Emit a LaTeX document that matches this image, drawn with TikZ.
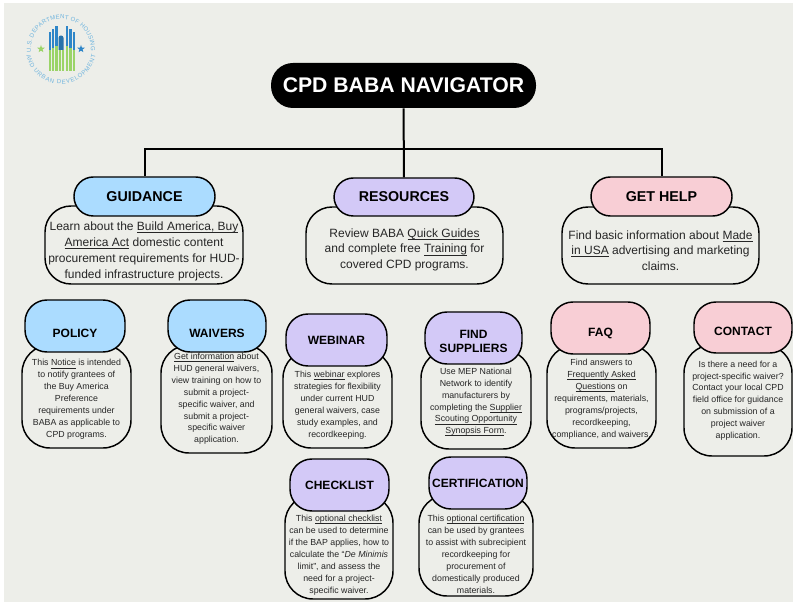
\documentclass[tikz,border=0pt]{standalone}
\usepackage{fontspec}
\setmainfont{Liberation Sans}
\usetikzlibrary{shapes.geometric,decorations.text}

\definecolor{pagebg}{HTML}{EDEEE9}
\definecolor{bluehead}{HTML}{ABDCFF}
\definecolor{purplehead}{HTML}{D3C9F7}
\definecolor{pinkhead}{HTML}{F8CED5}
\definecolor{sealblue}{HTML}{2F86C8}
\definecolor{sealgreen}{HTML}{9BD468}
\definecolor{sealtext}{HTML}{6FB4DE}

\newcommand{\sealfont}{\fontsize{4.5}{5}\selectfont\color{sealtext}}
\newcommand{\up}[1]{\rule{0pt}{#1pt}}
\newcommand{\ul}[1]{\underline{\smash{#1}}}

\tikzset{
    sized/.style 2 args={minimum width=#1*0.75pt, minimum height=#2*0.75pt},
    head/.style={draw=black, line width=1.1pt, rounded corners=14.5pt, inner sep=0pt, align=center, text=black, font=\fontsize{10.7}{12}\selectfont\bfseries},
    subhead/.style={head, rounded corners=16.5pt, font=\fontsize{9}{10.8}\selectfont\bfseries},
    blurb/.style={draw=black, line width=1.1pt, fill=pagebg, rounded corners=19.5pt, inner sep=0pt, align=center, text=black!85, font=\fontsize{9}{11.8}\selectfont},
    subblurb/.style={blurb, rounded corners=21pt, font=\fontsize{6.6}{8.9}\selectfont},
    link/.style={draw=black, line width=1.5pt},
    sealtop/.style={decorate, decoration={text along path, text align={fit to path}, text={|\sealfont|U.S. DEPARTMENT OF HOUSING}}},
    sealbottom/.style={decorate, decoration={text along path, text align={fit to path}, text={|\sealfont|AND URBAN DEVELOPMENT}}}
}

\begin{document}
\begin{tikzpicture}[x=0.75pt, y=-0.75pt]

    \useasboundingbox (0,0) rectangle (793,602);
    \fill[pagebg] (4,3) rectangle (793,602);

    % seal
    \coordinate (seal) at (61,49);
    \path[sealtop] ([shift={(186:22.5pt)}]seal) arc[start angle=186, end angle=-4, radius=22.5pt];
    \path[sealbottom] ([shift={(190:26.3pt)}]seal) arc[start angle=190, end angle=350, radius=26.3pt];
    \foreach \x/\y in {48.5/32,51.9/29,55.3/26,65.9/26,69.2/29,72.5/32} \fill[sealblue] (\x,\y) rectangle (\x+2.3,50);
    \fill[sealblue!85!black] (58.5,50) -- (58.5,38) arc[start angle=180, end angle=0, radius=1.9pt] -- (63.5,50) -- cycle;
    \foreach \x/\y in {48.5/50,51.9/48,55.3/46,58.7/50,62.1/50,65.9/46,69.2/48,72.5/50} \fill[sealgreen] (\x,\y) rectangle (\x+2.3,71);
    \node[star, star points=5, star point ratio=2.4, fill=sealgreen, inner sep=0pt, minimum size=6pt] (stargreen) at (41,49) {};
    \node[star, star points=5, star point ratio=2.4, fill=sealblue, inner sep=0pt, minimum size=6pt] (starblue) at (81,49) {};

    % top row
    \node[fill=black, text=white, inner sep=0pt, rounded corners=16.5pt, sized={265}{45}, font=\fontsize{15.9}{18}\selectfont\bfseries] (navigator) at (403.5,85.5) {CPD BABA NAVIGATOR};
    \coordinate (bus) at (404,149);

    \node[blurb, sized={198}{78}] (guidanceblurb) at (144,245) {\up{16}Learn about the \ul{Build America, Buy}\\\ul{America Act} domestic content\\procurement requirements for HUD-\\funded infrastructure projects.};
    \node[blurb, sized={197}{77}] (resourcesblurb) at (404.5,245.5) {\up{13}Review BABA \ul{Quick Guides}\\and complete free \ul{Training} for\\covered CPD programs.};
    \node[blurb, sized={197}{77}] (gethelpblurb) at (660.5,245.5) {\up{14}Find basic information about \ul{Made}\\\ul{in USA} advertising and marketing\\claims.};

    \node[head, fill=bluehead, sized={141}{39}] (guidance) at (144.5,196.5) {GUIDANCE};
    \node[head, fill=purplehead, sized={140}{38}] (resources) at (404,197) {RESOURCES};
    \node[head, fill=pinkhead, sized={141}{39}] (gethelp) at (661.5,196.5) {GET HELP};

    \draw[link] (navigator) -- (resources);
    \draw[link] (guidance.north) |- (bus) -| (gethelp.north);

    % guidance column
    \node[subblurb, sized={109}{103}] (policyblurb) at (76.5,396.5) {\up{9}This \ul{Notice} is intended\\to notify grantees of\\the Buy America\\Preference\\requirements under\\BABA as applicable to\\CPD programs.};
    \node[subblurb, sized={111}{108}] (waiversblurb) at (216.5,399) {\ul{Get information} about\\HUD general waivers,\\view training on how to\\submit a project-\\specific waiver, and\\submit a project-\\specific waiver\\application.};
    \node[subhead, fill=bluehead, sized={100}{52}] (policy) at (75,326) {\up{17}POLICY};
    \node[subhead, fill=bluehead, sized={98}{52}] (waivers) at (217,326) {\up{17}WAIVERS};

    % resources columns
    \node[subblurb, sized={109}{98}] (webinarblurb) at (337.5,399) {\up{14}This \ul{webinar} explores\\strategies for flexibility\\under current HUD\\general waivers, case\\study examples, and\\recordkeeping.};
    \node[subblurb, sized={110}{99}] (suppliersblurb) at (476,399.5) {\up{9}Use MEP National\\Network to identify\\manufacturers by\\completing the \ul{Supplier}\\\ul{Scouting Opportunity}\\\ul{Synopsis Form}.};
    \node[subblurb, sized={108}{104}] (checklistblurb) at (339,547) {\up{17}This \ul{optional checklist}\\can be used to determine\\if the BAP applies, how to\\calculate the “\textit{De Minimis}\\limit”, and assess the\\need for a project-\\specific waiver.};
    \node[subblurb, sized={114}{101}] (certificationblurb) at (476,545.5) {\up{18}This \ul{optional certification}\\can be used by grantees\\to assist with subrecipient\\recordkeeping for\\procurement of\\domestically produced\\materials.};
    \node[subhead, fill=purplehead, sized={101}{52}] (webinar) at (336.5,340) {WEBINAR};
    \node[subhead, fill=purplehead, sized={97}{52}] (suppliers) at (473.5,338) {\up{11}FIND\\SUPPLIERS};
    \node[subhead, fill=purplehead, sized={99}{52}] (checklist) at (339.5,485) {CHECKLIST};
    \node[subhead, fill=purplehead, sized={98}{52}] (certification) at (478,483) {CERTIFICATION};

    % help columns
    \node[subblurb, sized={109}{103}] (faqblurb) at (601.5,396.5) {\up{9}Find answers to\\\ul{Frequently Asked}\\\ul{Questions} on\\requirements, materials,\\programs/projects,\\recordkeeping,\\compliance, and waivers.};
    \node[subblurb, sized={108}{111}] (contactblurb) at (738,400.5) {Is there a need for a\\project-specific waiver?\\Contact your local CPD\\field office for guidance\\on submission of a\\project waiver\\application.};
    \node[subhead, fill=pinkhead, sized={99}{52}] (faq) at (600.5,328) {\up{14}FAQ};
    \node[subhead, fill=pinkhead, sized={98}{51}] (contact) at (743,327.5) {\up{12}CONTACT};

\end{tikzpicture}
\end{document}
